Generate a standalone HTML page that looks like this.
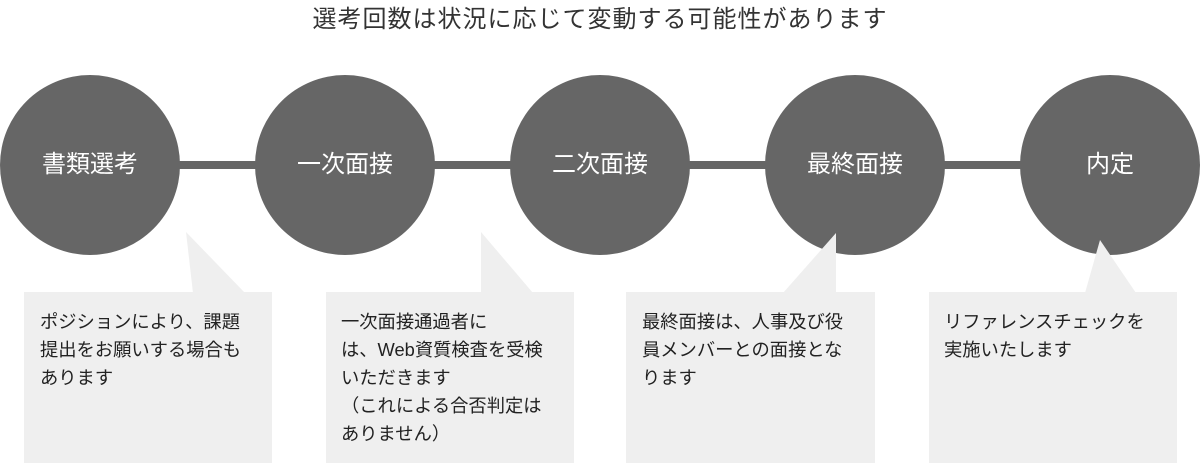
<!DOCTYPE html>
<html><head><meta charset="utf-8"><style>
html,body{margin:0;padding:0;background:#fff;}
body{width:1200px;height:463px;position:relative;overflow:hidden;font-family:"Liberation Sans","Noto Sans CJK JP",sans-serif;}
.t{position:absolute;white-space:nowrap;}
.title{left:0;width:1200px;text-align:center;top:4px;font-size:24px;line-height:32px;color:#333;letter-spacing:1px;}
.lab{color:#fff;font-size:24px;line-height:30px;top:150px;width:180px;text-align:center;}
.box{color:#222;font-size:18.3px;line-height:28px;top:308px;}
</style></head><body>
<svg width="1200" height="463" style="position:absolute;left:0;top:0">
<rect x="90" y="161" width="1020" height="8" fill="#666"/>
<g fill="#666">
<circle cx="90" cy="165" r="90"/>
<circle cx="345" cy="165" r="90"/>
<circle cx="600" cy="165" r="90"/>
<circle cx="855" cy="165" r="90"/>
<circle cx="1110" cy="165" r="90"/>
</g>
<g fill="#efefef">
<rect x="24" y="292" width="248" height="171"/>
<rect x="326" y="292" width="248" height="171"/>
<rect x="626" y="292" width="249" height="171"/>
<rect x="929" y="292" width="248" height="171"/>
<polygon points="186,232 193,293 245,293"/>
<polygon points="481,232 481,293 533,293"/>
<polygon points="836,233 783,293 836,293"/>
<polygon points="1100,240 1085,293 1136,293"/>
</g>
</svg>
<div class="t title">選考回数は状況に応じて変動する可能性があります</div>
<div class="t lab" style="left:0">書類選考</div>
<div class="t lab" style="left:255px">一次面接</div>
<div class="t lab" style="left:510px">二次面接</div>
<div class="t lab" style="left:765px">最終面接</div>
<div class="t lab" style="left:1020px">内定</div>
<div class="t box" style="left:40px">ポジションにより、課題<br>提出をお願いする場合も<br>あります</div>
<div class="t box" style="left:341px">一次面接通過者に<br>は、Web資質検査を受検<br>いただきます<br>（これによる合否判定は<br>ありません）</div>
<div class="t box" style="left:642px">最終面接は、人事及び役<br>員メンバーとの面接とな<br>ります</div>
<div class="t box" style="left:944px">リファレンスチェックを<br>実施いたします</div>
</body></html>
